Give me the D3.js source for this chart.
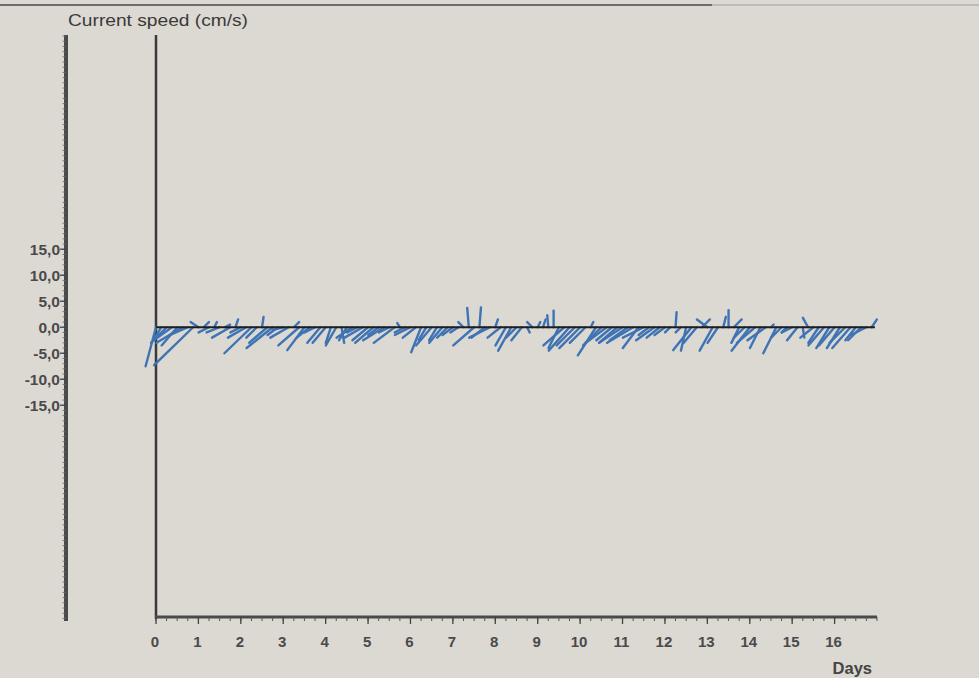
<!DOCTYPE html>
<html><head><meta charset="utf-8">
<script src="https://cdn.jsdelivr.net/npm/d3@7"></script>
<style>
html,body{margin:0;padding:0;background:#dcd8d2;}
svg{display:block;}
text{font-family:"Liberation Sans",Arial,sans-serif;}
</style></head>
<body><svg id="c" width="979" height="678"></svg>
<script>
// Stick samples every 3 hours (8 per day), u = east, v = north component, cm/s
const samplesPerDay = 8;
const uVals = [
  -2,-1.5,-3,-3.5,-3,-5,-3.5,-7.5,
  -1.5,1,-2,0.5,-2.5,1,-3.5,0.5,
  -2,-3.5,-5.2,-2,0.3,-3.5,-5,-2,
  -2,-3.5,1,-4,-3.3,-2.5,-2,-2.5,
  -2.5,-1,-2,0.5,-1.5,-3,-2,-3.5,
  -3,-3.5,-2,-4,-2,-4,-0.5,-2,
  -3,-2.5,-1.9,-1.5,-3,-1.5,-2.5,-2,
  -2,-1.5,-1,-0.3,-4,0.3,-2.5,-4,
  0.5,-2.5,-2,-2.5,-2,-2,0.5,-1,
  0.5,0.5,-0.2,0,-2,-4,-4,-3.5,
  -4,-3,0.5,-3.5,-3.5,-4,-3,-3.5,
  -4.5,-3.5,-5,-3,-4,-2,-3.5,-2.5,
  -2,-1,0.2,-1,-1,-3.5,-2.5,1.5,
  -2,-2.5,-2,0.5,0,1.5,-1.5,-2,
  -3.5,-3.5,-2,-3.5,0.5,-2.5,-2,-1,
  -2,-2,0.3,-1,-2.5,-2,-3,-2.5,
  -3,-2.5,-3,-3.5,-2,-2.5,-3,1
];
const vVals = [
  -7.5,-2.5,-3,-2.5,-3.5,-3,-1.5,-7.3,
  1,1,-1,1,-1,0.5,-2,1.5,
  -1,-2,-5,-2,2,-3,-4,-1.5,
  -0.5,-2,1,-3.5,-4.4,-2,-1,-3,
  -3,-3,-3.5,-3,-2.5,-2,-1,-2,
  -2.5,-3,-1.5,-2.5,-1,-3,0.8,-1,
  -1.5,-2,-4.8,-2.5,-3.5,-2.5,-3,-2,
  -1.5,-1,1,3.7,-3.5,3.8,-2,-2,
  1.5,-2,-3.5,-4.5,-2,-2.5,-1,1,
  1,1.5,2.3,3.2,-4,-3.5,-4.5,-3.5,
  -4,-3,1,-5.4,-3.5,-3,-2.5,-3,
  -3,-2.5,-3,-4,-2,-1.5,-2.5,-2,
  -1.5,-1,2.9,-1,-4.5,-4.4,-3,1.5,
  1.5,-4.5,-3,2,3.3,1.5,-3,-2,
  -4.5,-3,-4,-2.5,0.5,-5,-2,-1,
  -1,-2.5,-2,1.8,-2,-3,-3.5,-4,
  -3.5,-4,-3,-4,-2.5,-2.5,-1.5,1.5
];
const yMajorTicks = [15, 10, 5, 0, -5, -10, -15];
const xMajorTicks = [0,1,2,3,4,5,6,7,8,9,10,11,12,13,14,15,16];
const yLabel = "Current speed (cm/s)";
const xLabel = "Days";

const sticks = uVals.map((u,i)=>({t:i/samplesPerDay, u:u, v:vVals[i]}));

const svg = d3.select("#c");
const fmt = d => d3.format(".1f")(d).replace(".", ",").replace("−","-");

const x = d3.scaleLinear().domain([0,17]).range([156,877]);
const pxPerUnit = 5.2;
const y = d3.scaleLinear().domain([-56.3,56.2]).range([620,35]);

// top border
svg.append("line").attr("x1",0).attr("x2",712).attr("y1",5).attr("y2",5)
  .attr("stroke","#4a4a4a").attr("stroke-width",1.5);
svg.append("line").attr("x1",712).attr("x2",979).attr("y1",5).attr("y2",5)
  .attr("stroke","#a09e9a").attr("stroke-width",1);

// left value axis
const gy = svg.append("g").attr("transform","translate(66,0)");
gy.append("line").attr("x1",0).attr("x2",0).attr("y1",35).attr("y2",621)
  .attr("stroke","#4a4a4a").attr("stroke-width",4);
const minorY = d3.range(-56,57,1);
gy.selectAll("line.mn").data(minorY).join("line").attr("class","mn")
  .attr("x1",-3.5).attr("x2",0).attr("y1",d=>y(d)).attr("y2",d=>y(d))
  .attr("stroke","#666").attr("stroke-width",0.8);
gy.selectAll("line.mj").data(yMajorTicks).join("line").attr("class","mj")
  .attr("x1",-6).attr("x2",0).attr("y1",d=>y(d)).attr("y2",d=>y(d))
  .attr("stroke","#444").attr("stroke-width",1.3);
gy.selectAll("text").data(yMajorTicks).join("text")
  .attr("x",-6).attr("y",d=>y(d)).attr("dy","0.36em")
  .attr("text-anchor","end").attr("font-size",15.5).attr("font-weight","bold")
  .attr("fill","#4a4a4a").text(fmt);

svg.append("text").attr("x",68).attr("y",26).attr("font-size",17)
  .attr("fill","#3a3a3a").attr("textLength",180).attr("lengthAdjust","spacingAndGlyphs")
  .text(yLabel);

// inner vertical line (t = 0)
svg.append("line").attr("x1",x(0)).attr("x2",x(0)).attr("y1",35).attr("y2",619)
  .attr("stroke","#3a3a3a").attr("stroke-width",2.5);

// bottom time axis
const axY = 617;
svg.append("line").attr("x1",x(0)-1).attr("x2",x(17)).attr("y1",axY).attr("y2",axY)
  .attr("stroke","#4a4a4a").attr("stroke-width",3);
const minorX = d3.range(0,17.01,0.25);
svg.selectAll("line.xmn").data(minorX).join("line").attr("class","xmn")
  .attr("x1",d=>x(d)).attr("x2",d=>x(d)).attr("y1",axY).attr("y2",axY+4)
  .attr("stroke","#555").attr("stroke-width",1);
svg.selectAll("line.xmj").data(xMajorTicks).join("line").attr("class","xmj")
  .attr("x1",d=>x(d)).attr("x2",d=>x(d)).attr("y1",axY).attr("y2",axY+7)
  .attr("stroke","#444").attr("stroke-width",1.3);
svg.selectAll("text.xt").data(xMajorTicks).join("text").attr("class","xt")
  .attr("x",d=>x(d)-1).attr("y",647).attr("text-anchor","middle")
  .attr("font-size",15).attr("font-weight","bold").attr("fill","#4a4a4a").text(d=>d);
svg.append("text").attr("x",872).attr("y",674).attr("text-anchor","end")
  .attr("font-size",16.5).attr("font-weight","bold").attr("fill","#444").text(xLabel);

// sticks
svg.append("g").selectAll("line").data(sticks).join("line")
  .attr("x1",d=>x(d.t)).attr("y1",y(0))
  .attr("x2",d=>x(d.t)+d.u*pxPerUnit).attr("y2",d=>y(d.v))
  .attr("stroke","#3f74b4").attr("stroke-width",2.4).attr("stroke-linecap","round");

// zero line
svg.append("line").attr("x1",x(0)).attr("x2",x(16.95)).attr("y1",y(0)).attr("y2",y(0))
  .attr("stroke","#1e1e1e").attr("stroke-width",2.2);
</script></body></html>
